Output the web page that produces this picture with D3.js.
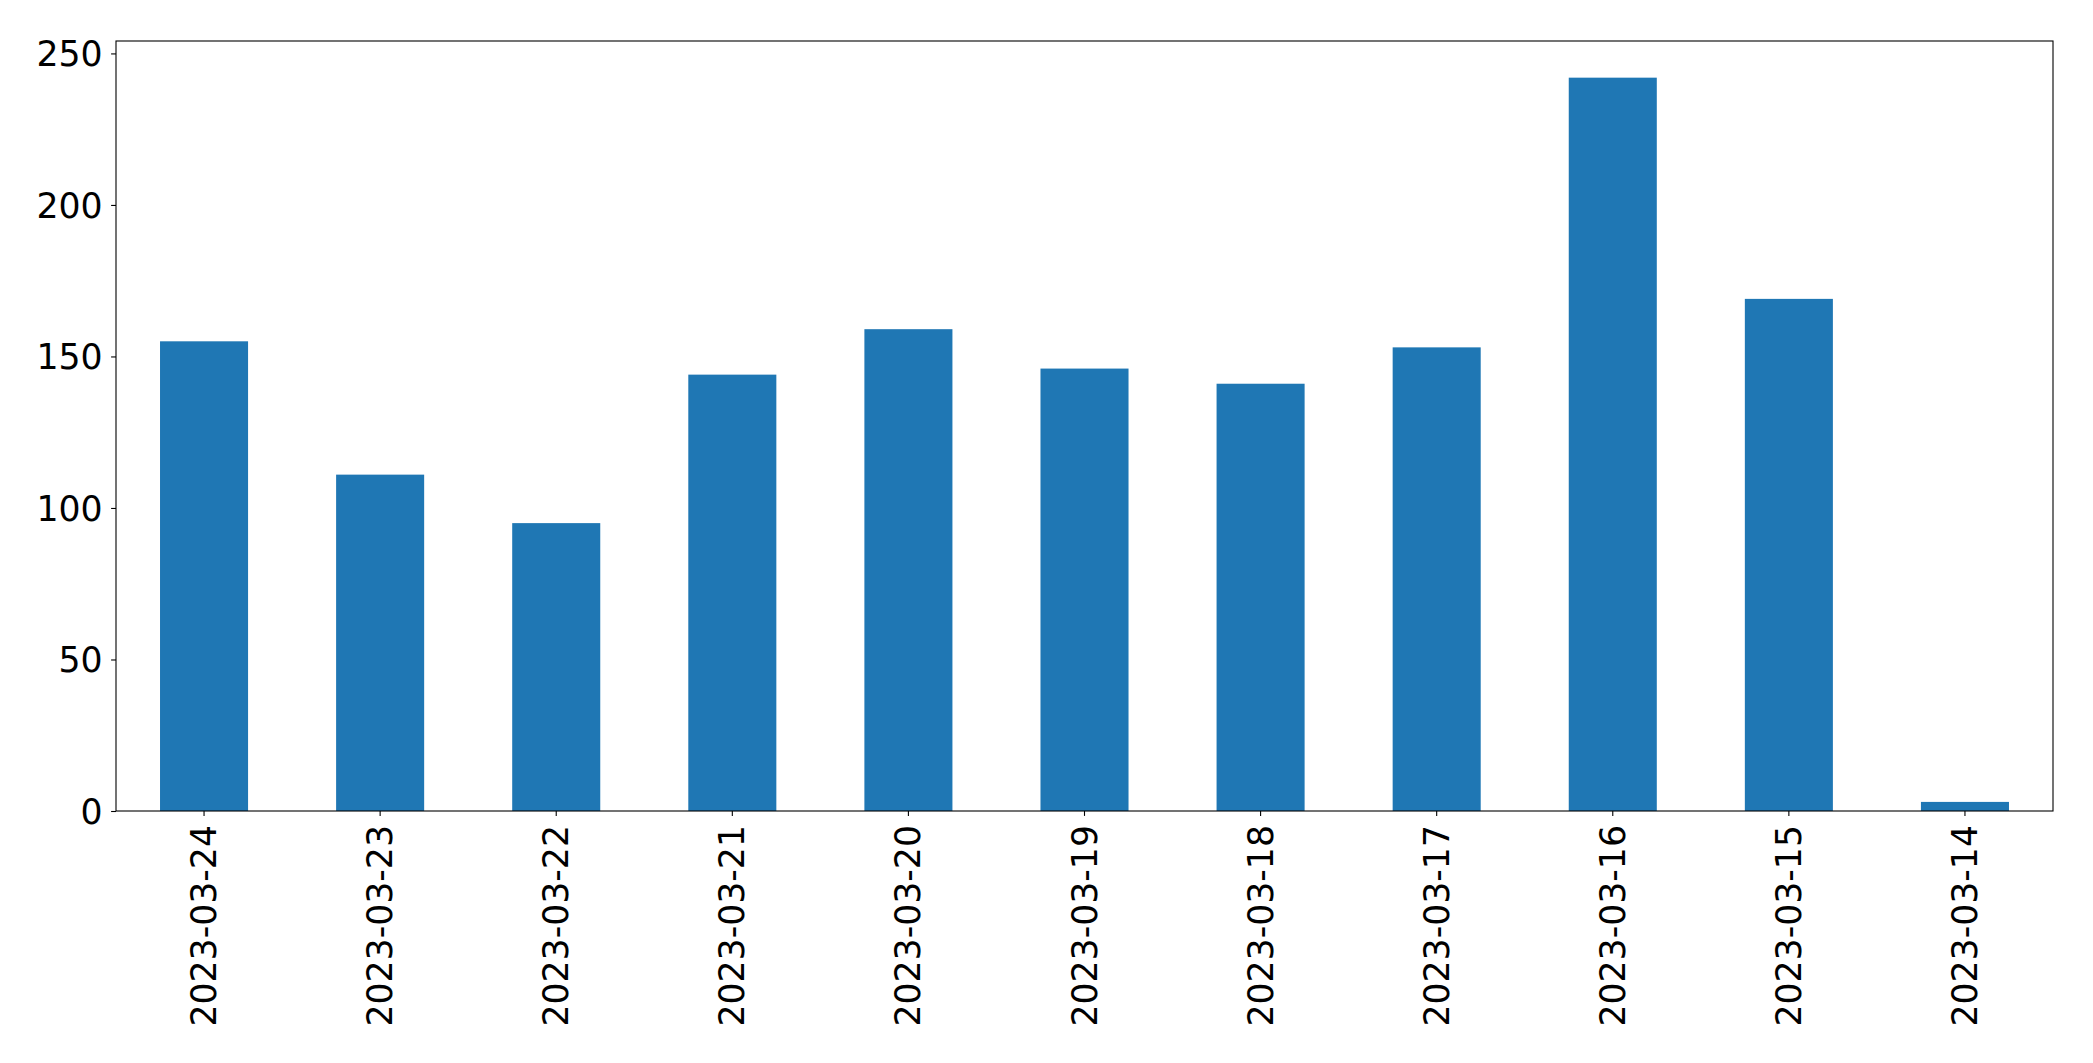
<!DOCTYPE html>
<html>
<head>
<meta charset="utf-8">
<script src="https://cdn.jsdelivr.net/npm/d3@7"></script>
<style>
  html, body { margin: 0; padding: 0; background: #fff; }
  svg { display: block; }
  text { font-family: "DejaVu Sans", sans-serif; fill: #000; }
</style>
</head>
<body>
<svg id="chart" width="2093" height="1063"></svg>
<script>
const categories = ["2023-03-24","2023-03-23","2023-03-22","2023-03-21","2023-03-20","2023-03-19","2023-03-18","2023-03-17","2023-03-16","2023-03-15","2023-03-14"];
const values = [155, 111, 95, 144, 159, 146, 141, 153, 242, 169, 3];
const yTicks = [0, 50, 100, 150, 200, 250];

const W = 2093, H = 1063;
const margin = {left: 116, right: W - 2053, top: 41, bottom: H - 811};
const svg = d3.select("#chart");
const innerW = W - margin.left - margin.right;
const innerH = H - margin.top - margin.bottom;
const g = svg.append("g").attr("transform", `translate(${margin.left},${margin.top})`);

const x = d3.scaleBand().domain(categories).range([0, innerW]).paddingInner(0.5).paddingOuter(0.25);
const yMax = d3.max(values) * 1.05;
const y = d3.scaleLinear().domain([0, yMax]).range([innerH, 0]);

g.selectAll("rect.bar").data(values).enter().append("rect")
  .attr("class", "bar")
  .attr("x", (d, i) => x(categories[i]))
  .attr("width", x.bandwidth())
  .attr("y", d => y(d))
  .attr("height", d => innerH - y(d))
  .attr("fill", "#1f77b4");

const fs = 34.7;
// y axis
const yAxis = d3.axisLeft(y).tickValues(yTicks).tickSize(4.9).tickPadding(8.5).tickFormat(d3.format("d"));
const ya = g.append("g").call(yAxis);
ya.select(".domain").remove();
ya.selectAll(".tick line").attr("stroke", "#000").attr("stroke-width", 1.1);
ya.selectAll(".tick text").attr("font-size", fs).attr("font-family", "DejaVu Sans").attr("dy", "0.36em");

// x axis
const xAxis = d3.axisBottom(x).tickSize(4.9).tickPadding(0);
const xa = g.append("g").attr("transform", `translate(0,${innerH})`).call(xAxis);
xa.select(".domain").remove();
xa.selectAll(".tick line").attr("stroke", "#000").attr("stroke-width", 1.1);
xa.selectAll(".tick text")
  .attr("font-size", fs)
  .attr("font-family", "DejaVu Sans")
  .attr("text-anchor", "end")
  .attr("dy", null)
  .attr("y", 0)
  .attr("transform", "translate(12,14) rotate(-90)");

// frame
g.append("rect").attr("x", 0).attr("y", 0).attr("width", innerW).attr("height", innerH)
  .attr("fill", "none").attr("stroke", "#000").attr("stroke-width", 1.1);
</script>
</body>
</html>
